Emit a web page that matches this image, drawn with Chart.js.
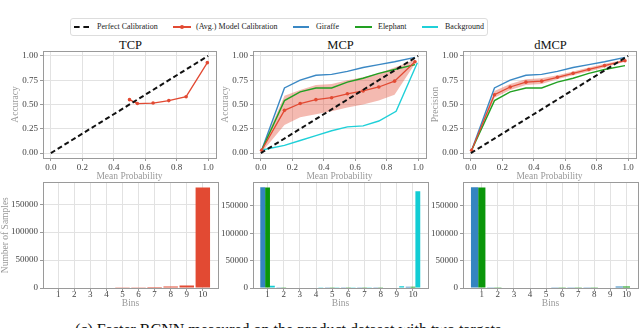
<!DOCTYPE html>
<html>
<head>
<meta charset="utf-8">
<script src="https://cdn.jsdelivr.net/npm/chart.js@4.4.0/dist/chart.umd.min.js"></script>
<style>
  body { margin: 0; width: 640px; height: 328px; overflow: hidden; position: relative; background: #fff; font-family: "Liberation Serif", serif; }
  canvas { position: absolute; }
  .ttl { position: absolute; width: 175px; text-align: center; font-size: 12.5px; line-height: 14px; color: #111; }
  #legend { position: absolute; left: 70px; top: 18px; width: 416px; height: 16px; border: 1px solid #ddd; border-radius: 3px; background: #fff; font-family: "Liberation Serif", serif; font-size: 8px; color: #222; }
  #legend span { position: absolute; top: 3px; white-space: nowrap; }
  #legend .sw { position: absolute; top: 7px; height: 2px; }
  #caption { position: absolute; left: 75px; top: 321px; font-size: 16px; color: #111; white-space: nowrap; }
</style>
</head>
<body>
<div id="legend">
  <div class="sw" style="left:3px;width:15px;height:0;border-top:2px dashed #111"></div><span style="left:26px">Perfect Calibration</span>
  <div class="sw" style="left:102px;width:18px;background:#e24a33"></div><div class="sw" style="left:109px;top:6px;width:4px;height:4px;border-radius:2px;background:#e24a33"></div><span style="left:125px">(Avg.) Model Calibration</span>
  <div class="sw" style="left:222px;width:16px;background:#3a88c4"></div><span style="left:245px">Giraffe</span>
  <div class="sw" style="left:284px;width:17px;background:#22a022"></div><span style="left:307px">Elephant</span>
  <div class="sw" style="left:351px;width:16px;background:#1fd0d8"></div><span style="left:374px">Background</span>
</div>

<div class="ttl" style="left:43px;top:38px">TCP</div>
<div class="ttl" style="left:253px;top:38px">MCP</div>
<div class="ttl" style="left:463px;top:38px">dMCP</div>

<canvas id="tcpCal" width="210" height="147" style="left:10px;top:36px"></canvas>
<canvas id="mcpCal" width="210" height="147" style="left:220px;top:36px"></canvas>
<canvas id="dmcpCal" width="210" height="147" style="left:430px;top:36px"></canvas>
<canvas id="tcpHist" width="220" height="135" style="left:0px;top:175px"></canvas>
<canvas id="mcpHist" width="220" height="135" style="left:210px;top:175px"></canvas>
<canvas id="dmcpHist" width="220" height="135" style="left:420px;top:175px"></canvas>

<div id="caption">(c) Faster RCNN measured on the product dataset with two targets</div>

<script>
// reliability curves
const perfectX = [0, 1];
const perfectY = [0, 1];

const tcpProb = [0.50, 0.55, 0.65, 0.75, 0.86, 0.995];
const tcpAcc = [0.55, 0.51, 0.515, 0.54, 0.58, 0.93];

const binCenters = [0.005, 0.15, 0.25, 0.35, 0.45, 0.55, 0.65, 0.75, 0.85, 0.98];
const bgCenters = [0.0, 0.15, 0.25, 0.35, 0.45, 0.55, 0.65, 0.75, 0.86, 0.995];

const giraffeAcc = [0.03, 0.67, 0.75, 0.80, 0.81, 0.84, 0.88, 0.91, 0.94, 0.985];
const elephantAcc = [0.03, 0.54, 0.63, 0.67, 0.67, 0.73, 0.77, 0.82, 0.86, 0.91];
const backgroundAcc = [0.03, 0.08, 0.13, 0.18, 0.23, 0.27, 0.28, 0.33, 0.43, 0.93];
const mcpAvg = [0.03, 0.44, 0.51, 0.55, 0.57, 0.61, 0.64, 0.68, 0.74, 0.94];
const mcpUpper = [0.05, 0.59, 0.65, 0.70, 0.71, 0.75, 0.78, 0.82, 0.88, 0.96];
const mcpLower = [0.01, 0.29, 0.37, 0.40, 0.43, 0.47, 0.50, 0.54, 0.60, 0.92];

const giraffePrec = [0.03, 0.67, 0.75, 0.80, 0.81, 0.84, 0.88, 0.91, 0.94, 0.985];
const elephantPrec = [0.03, 0.54, 0.63, 0.67, 0.67, 0.73, 0.77, 0.82, 0.86, 0.90];
const dmcpAvg = [0.03, 0.60, 0.68, 0.73, 0.74, 0.78, 0.82, 0.86, 0.90, 0.95];
const dmcpUpper = [0.04, 0.64, 0.71, 0.76, 0.77, 0.80, 0.84, 0.88, 0.92, 0.96];
const dmcpLower = [0.02, 0.57, 0.65, 0.70, 0.71, 0.76, 0.80, 0.84, 0.88, 0.94];

const probTicks = [0, 0.2, 0.4, 0.6, 0.8, 1.0];
const accTicks = [0, 0.25, 0.5, 0.75, 1.0];

// histograms
const bins = [1, 2, 3, 4, 5, 6, 7, 8, 9, 10];
const binLabels = ['1', '2', '3', '4', '5', '6', '7', '8', '9', '10'];
const countTicks = [0, 50000, 100000, 150000];

const tcpCounts = [0, 0, 0, 0, 300, 1500, 2000, 2500, 4500, 180000];
const mcpGiraffeCounts = [184000, 1200, 800, 700, 600, 600, 500, 600, 800, 2500];
const mcpElephantCounts = [183500, 1200, 800, 700, 600, 600, 500, 600, 800, 2500];
const mcpBackgroundCounts = [4000, 900, 700, 600, 600, 600, 600, 700, 3000, 177000];
const dmcpGiraffeCounts = [184000, 1200, 900, 800, 700, 500, 500, 600, 700, 2800];
const dmcpElephantCounts = [183500, 1200, 900, 800, 700, 500, 500, 600, 700, 2800];
const dmcpBackgroundCounts = [0, 0, 0, 0, 0, 0, 0, 0, 0, 0];

const RED = '#e24a33', BLUE = '#3a88c4', GREEN = '#22a022', CYAN = '#1fd0d8';
const BLUE_BAR = '#3585c0', GREEN_BAR = '#0a960a', CYAN_BAR = '#12cdd4';

const pts = (xs, ys) => xs.map((x, i) => ({ x: x, y: ys[i] }));

// matplotlib-like box round the plot area
const framePlugin = {
  id: 'frame',
  afterDraw(chart) {
    const a = chart.chartArea, ctx = chart.ctx;
    ctx.save();
    ctx.strokeStyle = '#9a9a9a';
    ctx.lineWidth = 1;
    ctx.strokeRect(Math.round(a.left) + 0.5, Math.round(a.top) + 0.5,
      Math.round(a.right - a.left), Math.round(a.bottom - a.top));
    ctx.restore();
  }
};

const tickFont = { family: 'Liberation Serif', size: 9 };
const titleFont = { family: 'Liberation Serif', size: 9.5 };

function axis(opts) {
  return {
    type: 'linear',
    min: opts.min,
    max: opts.max,
    offset: false,
    afterBuildTicks: (s) => { s.ticks = opts.ticks.map(v => ({ value: v })); },
    afterFit: (s) => {
      if (opts.width) s.width = opts.width;
      if (opts.height) s.height = opts.height;
    },
    ticks: { callback: opts.fmt, color: '#444', font: tickFont, padding: opts.pad, maxRotation: 0, autoSkip: false },
    grid: { color: '#e2e2e2', tickColor: '#9a9a9a', tickLength: 3, offset: false },
    border: { display: false },
    title: { display: !!opts.title, text: opts.title, color: '#999', font: titleFont, padding: { top: 0, bottom: 1 } }
  };
}

function calChart(id, series, yTitle) {
  new Chart(document.getElementById(id), {
    type: 'line',
    data: { datasets: series },
    options: {
      responsive: false, animation: false, devicePixelRatio: 1,
      layout: { padding: { top: 15, right: 2, left: 0, bottom: 0 } },
      plugins: { legend: { display: false }, tooltip: { enabled: false } },
      scales: {
        x: axis({ min: -0.05, max: 1.05, ticks: probTicks, fmt: v => v.toFixed(1), title: 'Mean Probability', height: 25, pad: 1 }),
        y: axis({ min: -0.05, max: 1.05, ticks: accTicks, fmt: v => v.toFixed(2), title: yTitle, width: 33, pad: 2 })
      }
    },
    plugins: [framePlugin]
  });
}

const lineStyle = (label, color, data, order) => ({
  label: label, data: data, borderColor: color, borderWidth: 1.4, pointRadius: 0, tension: 0, fill: false, order: order
});
const perfect = () => ({
  label: 'Perfect Calibration', data: pts(perfectX, perfectY), borderColor: '#111', borderWidth: 2,
  borderDash: [5, 3], pointRadius: 0, fill: false, order: 0
});
const avg = (xs, ys) => ({
  label: '(Avg.) Model Calibration', data: pts(xs, ys), borderColor: RED, backgroundColor: RED,
  borderWidth: 1.3, pointRadius: 1.8, pointBorderWidth: 0, fill: false, order: 1
});
const band = (xs, ys, fillTo) => ({
  data: pts(xs, ys), borderWidth: 0, pointRadius: 0, backgroundColor: 'rgba(226,74,51,0.38)',
  fill: fillTo, order: 6
});

calChart('tcpCal', [perfect(), avg(tcpProb, tcpAcc)], 'Accuracy');

calChart('mcpCal', [
  perfect(),
  avg(binCenters, mcpAvg),
  lineStyle('Elephant', GREEN, pts(binCenters, elephantAcc), 2),
  lineStyle('Giraffe', BLUE, pts(binCenters, giraffeAcc), 3),
  lineStyle('Background', CYAN, pts(bgCenters, backgroundAcc), 4),
  band(binCenters, mcpUpper, '+1'),
  band(binCenters, mcpLower, false)
], 'Accuracy');

calChart('dmcpCal', [
  perfect(),
  avg(binCenters, dmcpAvg),
  lineStyle('Elephant', GREEN, pts(binCenters, elephantPrec), 2),
  lineStyle('Giraffe', BLUE, pts(binCenters, giraffePrec), 3),
  band(binCenters, dmcpUpper, '+1'),
  band(binCenters, dmcpLower, false)
], 'Precision');

function histChart(id, series, xMin, xMax, groupWidth, yMax, yTitle) {
  new Chart(document.getElementById(id), {
    type: 'bar',
    data: { datasets: series },
    options: {
      responsive: false, animation: false, devicePixelRatio: 1,
      layout: { padding: { top: 6, right: 2, left: 0, bottom: 0 } },
      categoryPercentage: groupWidth, barPercentage: 1,
      plugins: { legend: { display: false }, tooltip: { enabled: false } },
      scales: {
        x: axis({ min: xMin, max: xMax, ticks: bins, fmt: (v, i) => binLabels[i], title: 'Bins', height: 22, pad: -2 }),
        y: axis({ min: 0, max: yMax, ticks: countTicks, fmt: v => String(v), title: yTitle, width: 43, pad: 2 })
      }
    },
    plugins: [framePlugin]
  });
}

const bars = (label, color, counts) => ({
  label: label, data: pts(bins, counts), backgroundColor: color, borderWidth: 0
});

histChart('tcpHist', [bars('TCP', RED, tcpCounts)], 0.055, 10.945, 0.9, 189000, 'Number of Samples');
histChart('mcpHist', [
  bars('Giraffe', BLUE_BAR, mcpGiraffeCounts),
  bars('Elephant', GREEN_BAR, mcpElephantCounts),
  bars('Background', CYAN_BAR, mcpBackgroundCounts)
], 0.1, 10.93, 0.9, 193000, '');
histChart('dmcpHist', [
  bars('Giraffe', BLUE_BAR, dmcpGiraffeCounts),
  bars('Elephant', GREEN_BAR, dmcpElephantCounts),
  bars('Background', CYAN_BAR, dmcpBackgroundCounts)
], -0.17, 10.72, 1.35, 193000, '');
</script>
</body>
</html>
